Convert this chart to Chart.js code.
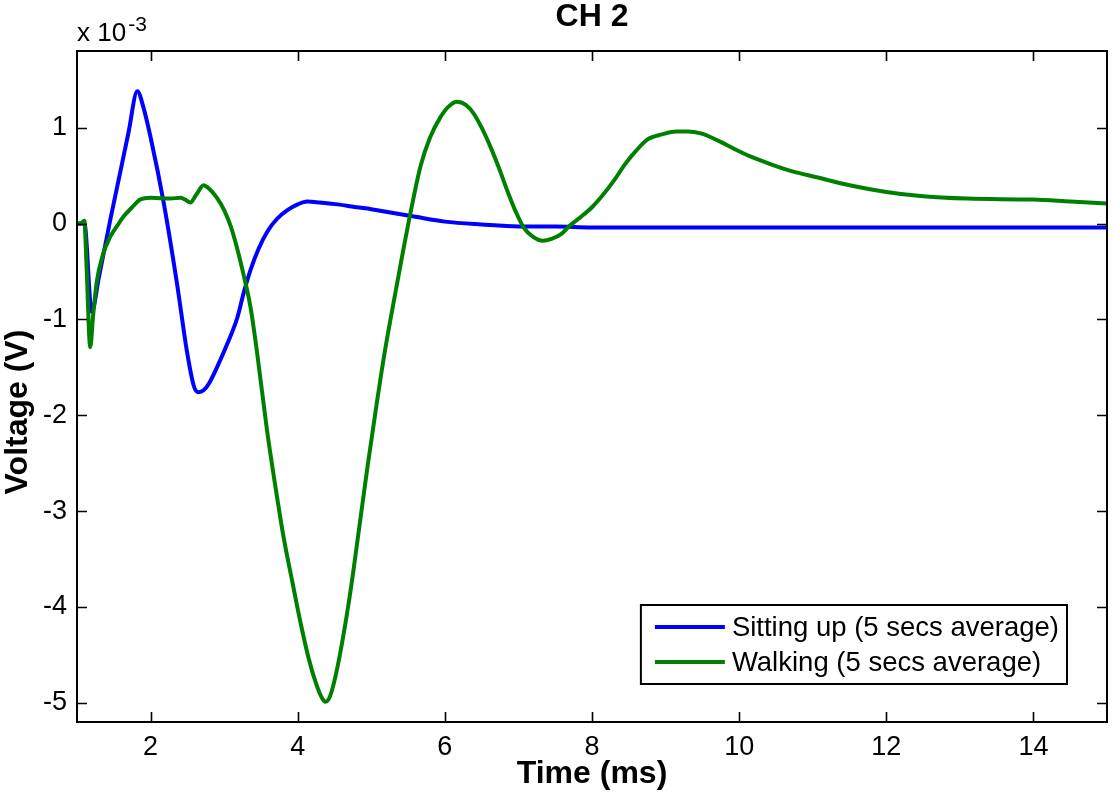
<!DOCTYPE html>
<html>
<head>
<meta charset="utf-8">
<script src="https://cdn.jsdelivr.net/npm/chart.js@4.4.1/dist/chart.umd.min.js"></script>
<style>
  html, body { margin: 0; padding: 0; background: #fff; }
  #wrap { width: 1114px; height: 803px; position: relative; }
</style>
</head>
<body>
<div id="wrap"><canvas id="ch2Chart"></canvas></div>
<script>
// values in units of 1e-3 V
const sitTime = [1.0, 1.1, 1.2, 1.3, 1.45, 1.6, 1.7, 1.82, 1.9, 2.0, 2.18, 2.36, 2.5, 2.59, 2.65, 2.72, 2.8, 2.95, 3.04, 3.18, 3.27, 3.36, 3.47, 3.59, 3.72, 3.86, 4.0, 4.13, 4.3, 4.54, 4.8, 5.0, 5.3, 5.6, 6.0, 6.5, 7.0, 7.5, 8.0, 9.0, 10.0, 11.0, 12.0, 13.0, 14.0, 15.0];
const sitVolt = [0, 0, -0.92, -0.55, 0.03, 0.58, 0.95, 1.38, 1.22, 0.90, 0.21, -0.63, -1.36, -1.70, -1.76, -1.74, -1.66, -1.42, -1.26, -0.98, -0.71, -0.48, -0.26, -0.08, 0.05, 0.14, 0.20, 0.23, 0.22, 0.20, 0.17, 0.15, 0.11, 0.07, 0.02, -0.01, -0.03, -0.03, -0.04, -0.04, -0.04, -0.04, -0.04, -0.04, -0.04, -0.04];

const walkTime = [1.0, 1.05, 1.1, 1.13, 1.18, 1.22, 1.27, 1.35, 1.45, 1.55, 1.63, 1.75, 1.86, 2.0, 2.27, 2.41, 2.47, 2.54, 2.62, 2.72, 2.8, 2.9, 3.0, 3.09, 3.17, 3.26, 3.36, 3.45, 3.58, 3.7, 3.81, 3.93, 4.04, 4.15, 4.25, 4.33, 4.38, 4.44, 4.52, 4.62, 4.72, 4.84, 4.95, 5.06, 5.17, 5.28, 5.4, 5.53, 5.67, 5.8, 5.94, 6.05, 6.17, 6.28, 6.39, 6.5, 6.62, 6.74, 6.85, 6.96, 7.07, 7.2, 7.33, 7.45, 7.58, 7.7, 7.85, 8.0, 8.15, 8.3, 8.45, 8.6, 8.76, 8.95, 9.15, 9.3, 9.48, 9.7, 9.93, 10.15, 10.39, 10.7, 11.07, 11.5, 12.0, 12.43, 13.1, 14.0, 14.5, 15.0];
const walkVolt = [0, 0, 0.03, -0.45, -1.29, -0.95, -0.60, -0.33, -0.14, -0.02, 0.07, 0.17, 0.25, 0.27, 0.26, 0.27, 0.25, 0.22, 0.30, 0.40, 0.36, 0.27, 0.14, -0.03, -0.24, -0.52, -0.88, -1.36, -2.14, -2.76, -3.28, -3.75, -4.17, -4.54, -4.80, -4.95, -4.99, -4.93, -4.70, -4.30, -3.82, -3.15, -2.53, -1.95, -1.40, -0.92, -0.42, 0.10, 0.60, 0.90, 1.11, 1.22, 1.27, 1.24, 1.15, 1.00, 0.80, 0.57, 0.34, 0.13, -0.04, -0.14, -0.18, -0.16, -0.11, -0.02, 0.07, 0.17, 0.30, 0.45, 0.62, 0.76, 0.88, 0.93, 0.96, 0.96, 0.94, 0.87, 0.78, 0.70, 0.63, 0.55, 0.48, 0.40, 0.33, 0.29, 0.26, 0.25, 0.23, 0.21];

const xTickValues = [2, 4, 6, 8, 10, 12, 14];
const yTickValues = [-5, -4, -3, -2, -1, 0, 1];

const seriesLabels = ['Sitting up (5 secs average)', 'Walking (5 secs average)'];

const FONT = '"Liberation Sans", Arial, Helvetica, sans-serif';

function toPoints(xs, ys) {
    return xs.map((x, i) => ({ x: x, y: ys[i] }));
}

// box around the axes with inward ticks, title, y label and exponent
const axesBox = {
    id: 'axesBox',
    afterDraw(chart) {
        const ctx = chart.ctx;
        const a = chart.chartArea;
        const xs = chart.scales.x;
        const ys = chart.scales.y;
        const len = 10;
        ctx.save();
        ctx.strokeStyle = '#000';
        ctx.lineWidth = 2;
        ctx.strokeRect(a.left, a.top, a.right - a.left, a.bottom - a.top);
        ctx.lineWidth = 1.6;
        ctx.beginPath();
        xs.ticks.forEach(t => {
            const px = Math.round(xs.getPixelForValue(t.value)) + 0.5;
            ctx.moveTo(px, a.bottom); ctx.lineTo(px, a.bottom - len);
            ctx.moveTo(px, a.top); ctx.lineTo(px, a.top + len);
        });
        ys.ticks.forEach(t => {
            const py = Math.round(ys.getPixelForValue(t.value)) + 0.5;
            ctx.moveTo(a.left, py); ctx.lineTo(a.left + len, py);
            ctx.moveTo(a.right, py); ctx.lineTo(a.right - len, py);
        });
        ctx.stroke();

        ctx.fillStyle = '#000';

        // title centred over the axes
        ctx.font = 'bold 32px ' + FONT;
        ctx.textAlign = 'center';
        ctx.textBaseline = 'alphabetic';
        ctx.fillText('CH 2', (a.left + a.right) / 2, 26);

        // y axis label
        ctx.save();
        ctx.translate(18, 412);
        ctx.rotate(-Math.PI / 2);
        ctx.textBaseline = 'middle';
        ctx.fillText('Voltage (V)', 0, 0);
        ctx.restore();

        // exponent label above the y axis
        ctx.textAlign = 'left';
        ctx.font = '26px ' + FONT;
        ctx.fillText('x 10', a.left, 41);
        const w = ctx.measureText('x 10').width;
        ctx.font = '21px ' + FONT;
        ctx.fillText('-3', a.left + w + 2, 31);
        ctx.restore();
    }
};

// legend box inside the lower right corner
const insideLegend = {
    id: 'insideLegend',
    afterDraw(chart) {
        const ctx = chart.ctx;
        const a = chart.chartArea;
        const sets = chart.data.datasets;
        ctx.save();
        ctx.font = '27.5px ' + FONT;
        let maxW = 0;
        sets.forEach(d => { maxW = Math.max(maxW, ctx.measureText(d.label).width); });
        const rowH = 35;
        const boxW = 91 + maxW + 8;
        const boxH = 79;
        const right = a.right - 40;
        const bottom = a.bottom - 38;
        const left = right - boxW;
        const top = bottom - boxH;
        ctx.fillStyle = '#fff';
        ctx.fillRect(left, top, boxW, boxH);
        ctx.strokeStyle = '#000';
        ctx.lineWidth = 2;
        ctx.strokeRect(left, top, boxW, boxH);
        sets.forEach((d, i) => {
            const y = top + 22 + i * rowH;
            ctx.strokeStyle = d.borderColor;
            ctx.lineWidth = 4;
            ctx.beginPath();
            ctx.moveTo(left + 14, y);
            ctx.lineTo(left + 84, y);
            ctx.stroke();
            ctx.fillStyle = '#000';
            ctx.textBaseline = 'middle';
            ctx.fillText(d.label, left + 91, y + 1);
        });
        ctx.restore();
    }
};

const ctx = document.getElementById('ch2Chart');

new Chart(ctx, {
    type: 'line',
    data: {
        datasets: [
            {
                label: seriesLabels[0],
                data: toPoints(sitTime, sitVolt),
                borderColor: '#0000ff',
                backgroundColor: '#0000ff',
                borderWidth: 4,
                pointRadius: 0,
                cubicInterpolationMode: 'monotone',
                order: 2
            },
            {
                label: seriesLabels[1],
                data: toPoints(walkTime, walkVolt),
                borderColor: '#008000',
                backgroundColor: '#008000',
                borderWidth: 4,
                pointRadius: 0,
                cubicInterpolationMode: 'monotone',
                order: 1
            }
        ]
    },
    options: {
        responsive: true,
        maintainAspectRatio: false,
        animation: false,
        layout: {
            padding: { left: 0, right: 7, top: 51, bottom: 0 }
        },
        plugins: {
            legend: { display: false },
            tooltip: { enabled: false },
            title: { display: false }
        },
        scales: {
            x: {
                type: 'linear',
                min: 1,
                max: 15,
                afterBuildTicks: scale => {
                    scale.ticks = xTickValues.map(v => ({ value: v }));
                },
                afterFit: scale => { scale.height = 81; },
                grid: { display: false, drawTicks: false },
                border: { display: false },
                ticks: {
                    color: '#000',
                    padding: 9,
                    maxRotation: 0,
                    font: { family: FONT, size: 27 }
                },
                title: {
                    display: true,
                    text: 'Time (ms)',
                    color: '#000',
                    font: { family: FONT, size: 32, weight: 'bold' },
                    padding: { top: 0, bottom: 10 }
                }
            },
            y: {
                type: 'linear',
                min: -5.2,
                max: 1.8,
                afterBuildTicks: scale => {
                    scale.ticks = yTickValues.map(v => ({ value: v }));
                },
                afterFit: scale => { scale.width = 77; },
                grid: { display: false, drawTicks: false },
                border: { display: false },
                ticks: {
                    color: '#000',
                    padding: 10,
                    font: { family: FONT, size: 27 }
                },
                title: { display: false }
            }
        }
    },
    plugins: [axesBox, insideLegend]
});
</script>
</body>
</html>
